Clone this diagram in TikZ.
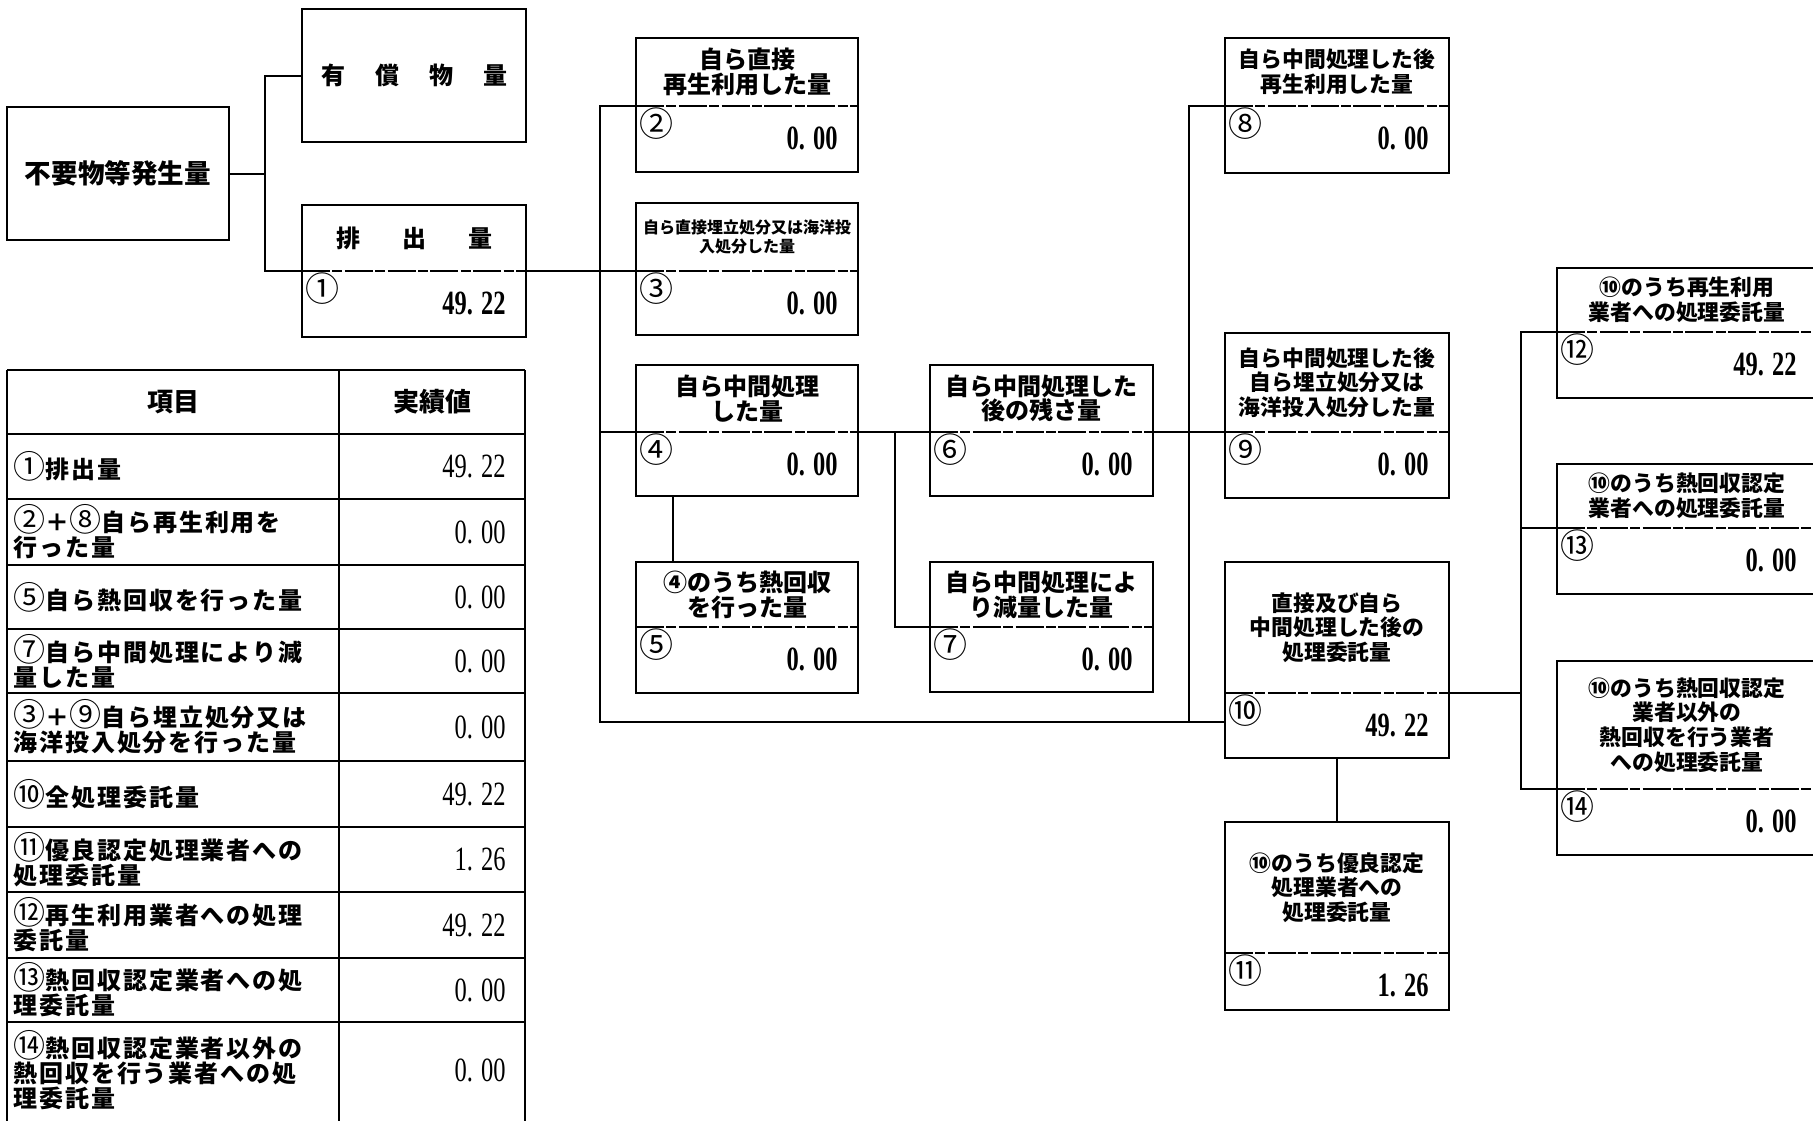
\documentclass[tikz,border=0pt]{standalone}
\usepackage{fontspec}
\setmainfont{Liberation Serif}
\newfontfamily\jp{Noto Sans CJK JP}
\newfontfamily\jptab[LetterSpace=8]{Noto Sans CJK JP}
\newfontfamily\numf[FakeStretch=0.72]{Liberation Serif}
\newcommand{\cn}[1]{{\mdseries\fontsize{16pt}{12.5pt}\selectfont #1}}
\usetikzlibrary{positioning, fit, calc}

\tikzset{
  qframe/.style={draw, line width=1.4pt, inner sep=0pt, outer sep=0pt},
  conn/.style={line width=1pt},
  divline/.style={line width=0.6pt, dash pattern=on 14pt off 1.2pt on 5pt off 1.2pt},
  tabline/.style={line width=1.3pt},
  tbig/.style={font=\jp\bfseries\fontsize{12pt}{12.4pt}\selectfont, align=center, inner sep=0pt},
  tmid/.style={font=\jp\bfseries\fontsize{10.9pt}{12.3pt}\selectfont, align=center, inner sep=0pt},
  ttiny/.style={font=\jp\bfseries\fontsize{8pt}{9.4pt}\selectfont, align=center, inner sep=0pt},
  cnum/.style={font=\jp\fontsize{17pt}{17pt}\selectfont, anchor=west, inner sep=0pt},
  val/.style={font=\numf\bfseries\fontsize{17pt}{17pt}\selectfont, anchor=east, inner sep=0pt},
  tabtxt/.style={font=\jptab\bfseries\fontsize{12pt}{12.5pt}\selectfont, align=left, anchor=west, inner sep=0pt},
  tabhead/.style={font=\jp\bfseries\fontsize{13pt}{13pt}\selectfont, inner sep=0pt},
  tabval/.style={font=\numf\fontsize{17pt}{17pt}\selectfont, anchor=east, inner sep=0pt}
}

% box: name, left, right, top, divider, bottom, number, value
\newcommand{\qbox}[8]{%
  \coordinate (#1-nw) at (#2,#4);
  \coordinate (#1-se) at (#3,#6);
  \node[qframe, fit={(#1-nw) (#1-se)}] (#1) {};
  \coordinate (#1-w) at (#2,#5);
  \coordinate (#1-e) at (#3,#5);
  \coordinate (#1-c) at ({(#2+#3)/2},#5);
  \draw[divline] (#1-w) -- (#1-e);
  \node[cnum] (#1-n) at ({#2+3},{#5+18}) {#7};
  \node[val] (#1-v) at ({#3-20},{#5+32}) {#8};
}

\begin{document}
\begin{tikzpicture}[x=0.5pt, y=-0.5pt]
\useasboundingbox (0,0) rectangle (1813,1120);
\fill[white] (0,0) rectangle (1813,1120);
\clip (0,0) rectangle (1813,1120);

% generation / valuables / discharge
\node[qframe, minimum width=111pt, minimum height=66.5pt,
      font=\jp\bfseries\fontsize{13.3pt}{14pt}\selectfont] (gen) at (118,173.5) {不要物等発生量};
\node[qframe, minimum width=112pt, minimum height=66.5pt,
      font=\jp\bfseries\fontsize{12pt}{12pt}\selectfont] (yu) at (414,75.5)
      {有\hspace{15pt}償\hspace{15pt}物\hspace{15pt}量};
\qbox{b1}{302}{526}{205}{271}{337}{①}{49. 22}
\node[tbig] (b1-t) at ($(b1.north)!.5!(b1-c)$) {排\hspace{21pt}出\hspace{21pt}量};

% own processing
\qbox{b2}{636}{858}{38}{106}{172}{②}{0. 00}
\node[tbig] (b2-t) at ($(b2.north)!.5!(b2-c)$) {自ら直接\\再生利用した量};
\qbox{b3}{636}{858}{203}{271}{335}{③}{0. 00}
\node[ttiny] (b3-t) at ($(b3.north)!.5!(b3-c)$) {自ら直接埋立処分又は海洋投\\入処分した量};
\qbox{b4}{636}{858}{365}{432}{496}{④}{0. 00}
\node[tbig] (b4-t) at ($(b4.north)!.5!(b4-c)$) {自ら中間処理\\した量};
\qbox{b5}{636}{858}{562}{627}{693}{⑤}{0. 00}
\node[tbig] (b5-t) at ($(b5.north)!.5!(b5-c)$) {④のうち熱回収\\を行った量};
\qbox{b6}{930}{1153}{365}{432}{496}{⑥}{0. 00}
\node[tbig] (b6-t) at ($(b6.north)!.5!(b6-c)$) {自ら中間処理した\\後の残さ量};
\qbox{b7}{930}{1153}{562}{627}{692}{⑦}{0. 00}
\node[tbig] (b7-t) at ($(b7.north)!.5!(b7-c)$) {自ら中間処理によ\\り減量した量};
\qbox{b8}{1225}{1449}{38}{106}{173}{⑧}{0. 00}
\node[tmid] (b8-t) at ($(b8.north)!.5!(b8-c)$) {自ら中間処理した後\\再生利用した量};
\qbox{b9}{1225}{1449}{333}{432}{498}{⑨}{0. 00}
\node[tmid] (b9-t) at ($(b9.north)!.5!(b9-c)$) {自ら中間処理した後\\自ら埋立処分又は\\海洋投入処分した量};

% consignment
\qbox{b10}{1225}{1449}{562}{693}{758}{⑩}{49. 22}
\node[tmid] (b10-t) at ($(b10.north)!.5!(b10-c)$) {直接及び自ら\\中間処理した後の\\処理委託量};
\qbox{b11}{1225}{1449}{822}{953}{1010}{⑪}{1. 26}
\node[tmid] (b11-t) at ($(b11.north)!.5!(b11-c)$) {⑩のうち優良認定\\処理業者への\\処理委託量};
\qbox{b12}{1557}{1817}{268}{332}{398}{⑫}{49. 22}
\node[tmid] (b12-t) at ($(b12.north)!.5!(b12-c)$) {⑩のうち再生利用\\業者への処理委託量};
\qbox{b13}{1557}{1817}{464}{528}{594}{⑬}{0. 00}
\node[tmid] (b13-t) at ($(b13.north)!.5!(b13-c)$) {⑩のうち熱回収認定\\業者への処理委託量};
\qbox{b14}{1557}{1817}{661}{789}{855}{⑭}{0. 00}
\node[tmid] (b14-t) at ($(b14.north)!.5!(b14-c)$) {⑩のうち熱回収認定\\業者以外の\\熱回収を行う業者\\への処理委託量};

% connectors
\coordinate (sp1) at (265,0);
\coordinate (tr1) at (600,0);
\coordinate (tr2) at (1189,0);
\coordinate (tr3) at (1521,0);
\coordinate (tap4) at (673,0);
\coordinate (tap6) at (895,0);
\coordinate (b10-in) at (1225,722);

\draw[conn] (gen.east) -- (gen.east -| sp1);
\draw[conn] (yu.west) -| (sp1 |- b1-w) -- (b1-w);
\draw[conn] (b1-e) -- (b3-w);
\draw[conn] (b2-w) -| (tr1 |- b10-in) -- (b10-in);
\draw[conn] (tr1 |- b4-w) -- (b4-w);
\draw[conn] (b4-e) -- (b6-w);
\draw[conn] (b6-e) -- (b9-w);
\draw[conn] (tap4 |- b4.south) -- (tap4 |- b5.north);
\draw[conn] (tap6 |- b4-e) |- (b7-w);
\draw[conn] (b8-w) -| (tr2 |- b10-in);
\draw[conn] (b10-e) -- (tr3 |- b10-e);
\draw[conn] (b12-w) -| (tr3 |- b14-w) -- (b14-w);
\draw[conn] (tr3 |- b13-w) -- (b13-w);
\draw[conn] (b10.south) -- (b11.north);

% summary table
\foreach \y in {370,434,499,565,629,693,761,827,892,958,1022,1122}
  \draw[tabline] (7,\y) -- (525,\y);
\foreach \x in {7,339,525}
  \draw[tabline] (\x,370) -- (\x,1122);
\node[tabhead] (h1) at (173,402) {項目};
\node[tabhead] (h2) at (432,402) {実績値};
\foreach \top/\bot/\txt/\v [count=\i] in {
  434/499/{\cn{①}排出量}/{49. 22},
  499/565/{\cn{②}＋\cn{⑧}自ら再生利用を\\行った量}/{0. 00},
  565/629/{\cn{⑤}自ら熱回収を行った量}/{0. 00},
  629/693/{\cn{⑦}自ら中間処理により減\\量した量}/{0. 00},
  693/761/{\cn{③}＋\cn{⑨}自ら埋立処分又は\\海洋投入処分を行った量}/{0. 00},
  761/827/{\cn{⑩}全処理委託量}/{49. 22},
  827/892/{\cn{⑪}優良認定処理業者への\\処理委託量}/{1. 26},
  892/958/{\cn{⑫}再生利用業者への処理\\委託量}/{49. 22},
  958/1022/{\cn{⑬}熱回収認定業者への処\\理委託量}/{0. 00},
  1022/1118/{\cn{⑭}熱回収認定業者以外の\\熱回収を行う業者への処\\理委託量}/{0. 00}}
{
  \node[tabtxt] (r\i) at (13,{(\top+\bot)/2}) {\txt};
  \node[tabval] (v\i) at (506,{(\top+\bot)/2}) {\v};
}
\end{tikzpicture}
\end{document}
